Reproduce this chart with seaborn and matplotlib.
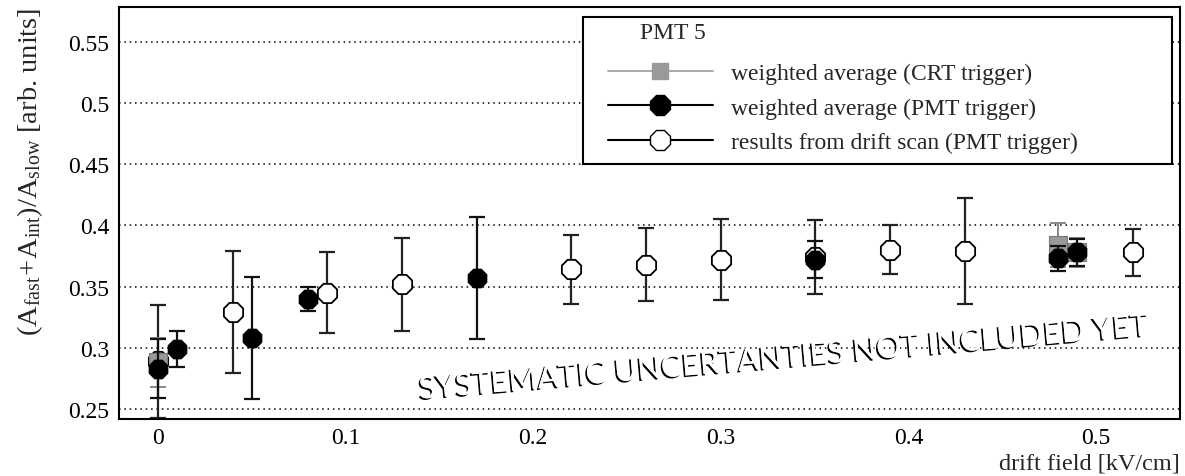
import numpy as np
import pandas as pd
import matplotlib
matplotlib.use("Agg")
import matplotlib.pyplot as plt
import matplotlib.patheffects as pe
from matplotlib.lines import Line2D
from matplotlib.legend_handler import HandlerLine2D
from matplotlib.ticker import MultipleLocator
import seaborn as sns

# ---- data ----
scan_x = [0.0, 0.04, 0.09, 0.13, 0.22, 0.26, 0.30, 0.35, 0.39, 0.43, 0.52]
scan_y = [0.289, 0.329, 0.345, 0.352, 0.364, 0.368, 0.372, 0.374, 0.380, 0.379, 0.378]
scan_err = [0.046, 0.050, 0.033, 0.038, 0.028, 0.030, 0.033, 0.030, 0.020, 0.043, 0.019]

crt_x = [0.0, 0.48, 0.49]
crt_y = [0.288, 0.384, 0.378]
crt_err = [0.020, 0.018, 0.012]

pmt_x = [0.0, 0.01, 0.05, 0.08, 0.17, 0.35, 0.48, 0.49]
pmt_y = [0.283, 0.299, 0.308, 0.340, 0.357, 0.372, 0.373, 0.378]
pmt_err = [0.024, 0.015, 0.050, 0.010, 0.050, 0.015, 0.010, 0.011]

legend_title = "PMT 5"
labels = ["weighted average (CRT trigger)",
          "weighted average (PMT trigger)",
          "results from drift scan (PMT trigger)"]
watermark = "SYSTEMATIC UNCERTANTIES NOT INCLUDED YET"

sns.set_theme(style="white")
plt.rcParams["font.family"] = ["Liberation Serif", "DejaVu Serif"]
plt.rcParams["mathtext.fontset"] = "custom"
plt.rcParams["mathtext.rm"] = "Liberation Serif"
plt.rcParams["mathtext.it"] = "Liberation Serif:italic"
plt.rcParams["mathtext.bf"] = "Liberation Serif:bold"

fig = plt.figure(figsize=(11.85, 4.77), dpi=100)
ax = fig.add_axes([119 / 1185, 1 - 420 / 477, (1180 - 119) / 1185, (420 - 8) / 477])

FS = 17
MS = 15

df_scan = pd.DataFrame({"x": scan_x, "y": scan_y, "e": scan_err})
df_crt = pd.DataFrame({"x": crt_x, "y": crt_y, "e": crt_err})
df_pmt = pd.DataFrame({"x": pmt_x, "y": pmt_y, "e": pmt_err})

# error bars
ax.errorbar(df_scan.x, df_scan.y, yerr=df_scan.e, fmt="none", ecolor="#222222",
            elinewidth=1.6, capsize=6, capthick=1.6, zorder=2)
ax.errorbar(df_crt.x, df_crt.y, yerr=df_crt.e, fmt="none", ecolor="#888888",
            elinewidth=1.4, capsize=6, capthick=1.4, zorder=3)
ax.errorbar(df_pmt.x, df_pmt.y, yerr=df_pmt.e, fmt="none", ecolor="#111111",
            elinewidth=1.6, capsize=6, capthick=1.6, zorder=4)

# markers
sns.scatterplot(data=df_scan, x="x", y="y", marker="8", s=MS ** 2, facecolor="white",
                edgecolor="black", linewidth=1.3, ax=ax, zorder=2.5, legend=False)
sns.scatterplot(data=df_crt, x="x", y="y", marker="s", s=(MS * 0.85) ** 2, color="#999999",
                edgecolor="#777777", linewidth=0.8, ax=ax, zorder=3.5, legend=False)
sns.scatterplot(data=df_pmt, x="x", y="y", marker="8", s=(MS * 0.95) ** 2, color="black",
                edgecolor="black", linewidth=1.0, ax=ax, zorder=4.5, legend=False)

ax.set_xlim(-0.0208, 0.5448)
ax.set_ylim(0.2418, 0.5784)

ax.xaxis.set_major_locator(MultipleLocator(0.1))
ax.xaxis.set_minor_locator(MultipleLocator(0.02))
ax.yaxis.set_major_locator(MultipleLocator(0.05))
ax.yaxis.set_minor_locator(MultipleLocator(0.01))
ax.xaxis.set_major_formatter(matplotlib.ticker.FuncFormatter(lambda v, p: f"{v:g}"))
ax.yaxis.set_major_formatter(matplotlib.ticker.FuncFormatter(lambda v, p: f"{v:g}"))

ax.tick_params(axis="both", which="both", direction="in", top=False, right=False,
               colors="black", labelsize=FS, width=1.3)
ax.tick_params(axis="y", which="major", length=20, pad=7)
ax.tick_params(axis="y", which="minor", length=10)
ax.tick_params(axis="x", which="major", length=9, pad=6)
ax.tick_params(axis="x", which="minor", length=5)

for s in ax.spines.values():
    s.set_color("black")
    s.set_linewidth(1.5)

ax.grid(False)
ax.yaxis.grid(True, which="major", color="black", linestyle=(0, (1, 2.5)), linewidth=1.1)
ax.set_axisbelow(True)

ax.set_xlabel("drift field [kV/cm]", fontsize=17.5, loc="right", labelpad=3)
ax.set_ylabel(r"$(\mathrm{A}_{\mathrm{fast}}\!+\!\mathrm{A}_{\mathrm{int}})/\mathrm{A}_{\mathrm{slow}}$ [arb. units]",
              fontsize=20.5, loc="top", labelpad=17)

# legend
blank = Line2D([], [], linestyle="none", marker=None)
h_crt = Line2D([], [], color="#999999", lw=1.2, marker="s", markersize=12,
               markerfacecolor="#999999", markeredgecolor="#999999")
h_pmt = Line2D([], [], color="black", lw=1.5, marker="8", markersize=MS,
               markerfacecolor="black", markeredgecolor="black")
h_scan = Line2D([], [], color="black", lw=1.5, marker="8", markersize=MS,
                markerfacecolor="white", markeredgecolor="black")
hmap = {h: HandlerLine2D(xpad=0.6) for h in (h_crt, h_pmt, h_scan)}
leg = ax.legend([blank, h_crt, h_pmt, h_scan], ["", *labels],
                loc="upper left", bbox_to_anchor=(0.4373, 0.6253, 0.5552, 0.3504),
                mode="expand", fontsize=FS, frameon=True, fancybox=False, shadow=False,
                handlelength=5.04, handletextpad=0.76, labelspacing=0.56,
                borderpad=0.45, borderaxespad=0.0, handler_map=hmap)
leg.get_frame().set_edgecolor("black")
leg.get_frame().set_linewidth(1.5)
leg.get_frame().set_facecolor("white")
leg.get_frame().set_alpha(1)
leg.set_zorder(10)
ax.text((640 - 119) / 1061, (420 - 33) / 412, legend_title, transform=ax.transAxes,
        fontsize=FS, ha="left", va="center", zorder=11)

# watermark
ax.text(0.334, 0.2918, watermark, fontsize=22.5, family=["Lato", "DejaVu Sans"],
        fontweight="normal", color="white", ha="center", va="center", rotation=5,
        rotation_mode="anchor", zorder=6,
        path_effects=[pe.withSimplePatchShadow(offset=(-1.2, -1.2), shadow_rgbFace="black", alpha=1.0),
                      pe.Normal()])

fig.savefig("out.png", dpi=100)
